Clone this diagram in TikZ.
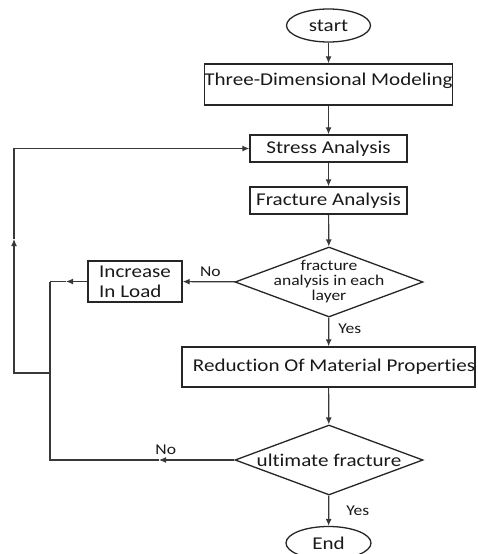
\documentclass[tikz,border=0pt]{standalone}
\usepackage{fontspec}
\setmainfont{Carlito}[FakeStretch=1.17, Ligatures=NoCommon]
\usetikzlibrary{shapes.geometric,arrows.meta}
\begin{document}
\begin{tikzpicture}[x=1pt,y=-1pt,
  every node/.style={text=black!90, font=\fontsize{18}{20}\selectfont},
  box/.style={draw=black!85, line width=1.4pt, rectangle, inner sep=0pt},
  oval/.style={draw=black!85, line width=1.3pt, ellipse, inner sep=0pt},
  dia/.style={draw=black!85, line width=1.3pt, diamond, inner sep=0pt, minimum width=188pt, minimum height=70pt},
  conn/.style={draw=black!78, line width=1.2pt},
  arr/.style={conn, -{Latex[length=7pt,width=6pt]}},
  lbl/.style={font=\fontsize{15}{17}\selectfont, inner sep=0pt},
]
\useasboundingbox[fill=white] (0,0) rectangle (478,554);

\node[oval, minimum width=84pt, minimum height=33pt] (start) at (328.5,25.5) {start};
\node[box, minimum width=239pt, minimum height=41pt, text height=12pt, text depth=10pt] (model) at (328.5,84.5) {Three-Dimensional Modeling};
\node[box, minimum width=157pt, minimum height=27pt] (stress) at (328.5,148.5) {Stress Analysis};
\node[box, minimum width=157pt, minimum height=27pt] (fract) at (328.5,200.5) {Fracture Analysis};
\node[dia, label={[align=center, font=\fontsize{15}{15}\selectfont, text=black!90]center:{fracture\\analysis in each\\layer}}] (d1) at (329,282) {};
\node[box, minimum width=94pt, minimum height=41pt, align=left] (load) at (135,281.5) {Increase\\In Load};
\node[box, minimum width=293pt, minimum height=40pt] (red) at (328.5,367) {\hspace*{11pt}Reduction Of Material Properties};
\node[dia, label={[text=black!90]center:{ultimate fracture}}] (d2) at (329,460) {};
\node[oval, minimum width=85pt, minimum height=33pt] (end) at (328.5,543) {End};

\coordinate (j1) at (50,281.5);
\coordinate (a1) at (66,281.5);
\coordinate (j2) at (50,460);
\coordinate (a2) at (159,460);
\coordinate (j3) at (50,373);
\coordinate (k1) at (14,373);
\coordinate (a3) at (14,239);
\coordinate (k2) at (14,148.5);

\draw[arr] (start) -- (model);
\draw[arr] (model) -- (stress);
\draw[arr] (stress) -- (fract);
\draw[arr] (fract) -- (d1);
\draw[arr] (d1) -- node[lbl, above=4pt, pos=0.47] {No} (load);
\draw[arr] (d1) -- node[lbl, right=9pt, pos=0.4] {Yes} (red);
\draw[arr] (red) -- (d2);
\draw[arr] (d2) -- node[lbl, right=17pt, pos=0.5] {Yes} (end);

\draw[arr] (load.west) -- (a1);
\draw[conn] (a1) -- (j1);
\draw[arr] (d2.west) -- node[lbl, above=5pt, pos=0.91] {No} (a2);
\draw[conn] (a2) -- (j2) -- (j1);
\draw[arr] (j3) -- (k1) -- (a3);
\draw[arr] (a3) -- (k2) -- (stress.west);
\end{tikzpicture}
\end{document}
